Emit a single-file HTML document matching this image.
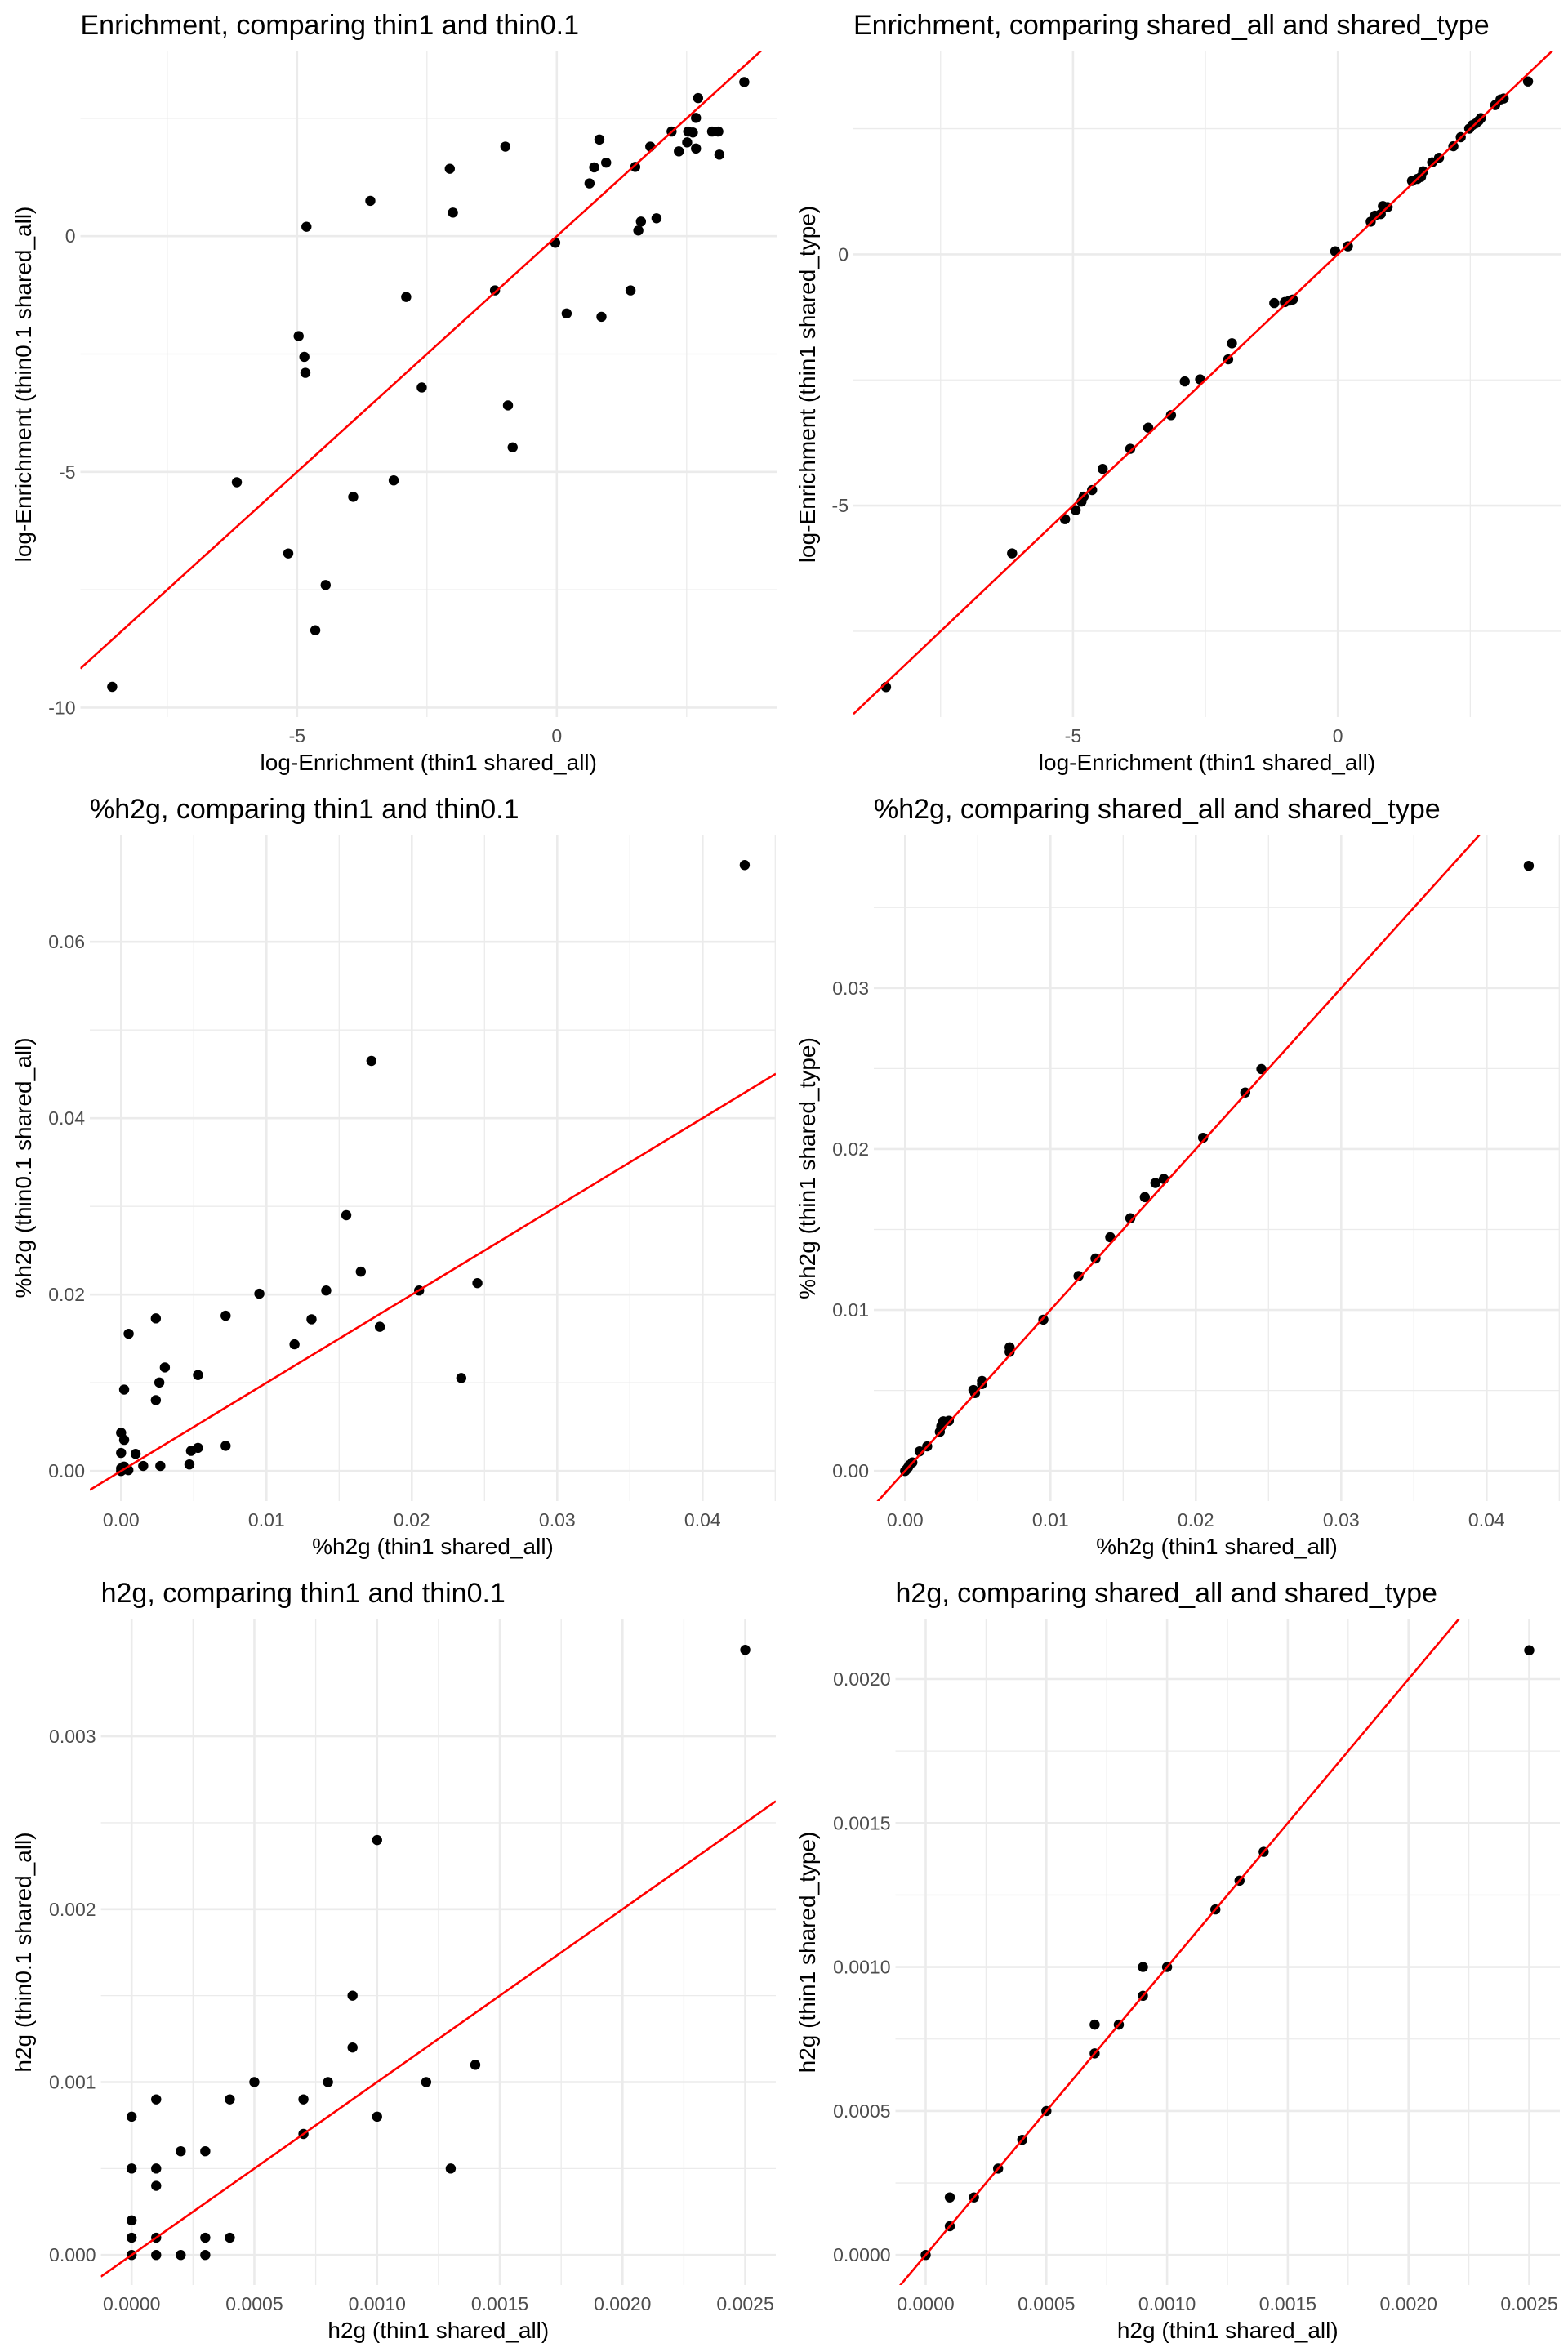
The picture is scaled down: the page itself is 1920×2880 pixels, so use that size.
<!DOCTYPE html>
<html><head><meta charset="utf-8"><style>
html,body{margin:0;padding:0;background:#fff}
svg{display:block}
text{font-family:"Liberation Sans",Arial,sans-serif}
</style></head><body>
<svg id="fig" xmlns="http://www.w3.org/2000/svg" width="1920" height="2880" viewBox="0 0 1920 2880"></svg>
<script>
// ---- data ----
const p1x=[-8.56,-6.16,-5.17,-4.97,-4.86,-4.84,-4.82,-4.65,-4.45,-3.92,-3.59,-3.14,-2.90,-2.60,-2.06,-2.00,-1.19,-0.99,-0.94,-0.85,-0.03,0.19,0.63,0.72,0.82,0.86,0.95,1.42,1.51,1.57,1.62,1.80,1.92,2.21,2.35,2.51,2.53,2.62,2.68,2.68,2.72,2.99,3.11,3.13,3.61];
const p1y=[-9.56,-5.22,-6.73,-2.12,-2.56,-2.90,0.20,-8.36,-7.40,-5.53,0.75,-5.18,-1.29,-3.21,1.43,0.50,-1.15,1.90,-3.59,-4.48,-0.14,-1.64,1.12,1.46,2.05,-1.71,1.56,-1.15,1.47,0.12,0.31,1.90,0.38,2.22,1.80,1.99,2.22,2.20,2.51,1.86,2.93,2.22,2.22,1.73,3.27];
const p2x=[-8.53,-6.15,-5.15,-4.95,-4.84,-4.80,-4.64,-4.44,-3.92,-3.58,-3.15,-2.89,-2.60,-2.07,-2.00,-1.20,-1.00,-0.91,-0.85,-0.05,0.19,0.62,0.70,0.81,0.85,0.94,1.40,1.50,1.57,1.61,1.78,1.91,2.18,2.32,2.48,2.54,2.61,2.66,2.70,2.97,3.07,3.13,3.59];
const p2y=[-8.61,-5.95,-5.27,-5.09,-4.92,-4.82,-4.69,-4.27,-3.87,-3.45,-3.20,-2.53,-2.49,-2.09,-1.77,-0.97,-0.95,-0.92,-0.90,0.06,0.16,0.65,0.77,0.80,0.96,0.94,1.46,1.50,1.54,1.65,1.83,1.92,2.15,2.33,2.50,2.57,2.61,2.66,2.71,2.97,3.08,3.10,3.44];
const p3x=[0.0429,0.01722,0.01549,0.01649,0.02451,0.0205,0.01411,0.00951,0.00719,0.00239,0.0131,0.0178,0.01193,0.00052,0.0234,0.00529,0.00301,0.00263,0.00021,0.00239,0,0.00021,0,0.001,0.00719,0.00529,0.00481,0.0047,0.00152,0.0027,0,0.0002,0.0005,0,0.0003];
const p3y=[0.0687,0.0465,0.0290,0.0226,0.0213,0.02046,0.02046,0.0201,0.0176,0.0173,0.0172,0.01635,0.01436,0.01556,0.01054,0.01088,0.01174,0.01003,0.00923,0.00803,0.00433,0.00353,0.00205,0.00194,0.00285,0.00262,0.00228,0.00074,0.00057,0.00057,0.0003,0.0005,0.0001,0,0.0002];
const p4x=[0.0429,0.02451,0.0234,0.0205,0.0178,0.01722,0.01649,0.01549,0.01411,0.0131,0.01193,0.00951,0.00719,0.00719,0.00529,0.00529,0.0047,0.00481,0.00301,0.00263,0.00249,0.00239,0.00152,0.001,0.0005,0.0003,0.0002,0,0.0001];
const p4y=[0.03759,0.02497,0.02351,0.0207,0.01814,0.01789,0.01701,0.0157,0.01452,0.0132,0.01211,0.0094,0.00768,0.0074,0.00559,0.0054,0.00503,0.00484,0.00312,0.00309,0.00278,0.00243,0.00153,0.00122,0.00053,0.00037,0.00022,0,0.0001];
const p5x=[0.0025,0.001,0.0009,0.0009,0.0014,0.0005,0.0008,0.0012,0.0001,0.0004,0.0007,0,0.001,0.0007,0.0002,0.0003,0,0.0001,0.0013,0.0001,0,0,0.0001,0.0003,0.0004,0,0.0001,0.0002,0.0003];
const p5y=[0.0035,0.0024,0.0015,0.0012,0.0011,0.001,0.001,0.001,0.0009,0.0009,0.0009,0.0008,0.0008,0.0007,0.0006,0.0006,0.0005,0.0005,0.0005,0.0004,0.0002,0.0001,0.0001,0.0001,0.0001,0,0,0,0];
const p6x=[0.0025,0.0014,0.0013,0.0012,0.0009,0.001,0.0009,0.0007,0.0008,0.0007,0.0005,0.0004,0.0003,0.0001,0.0002,0.0001,0];
const p6y=[0.0021,0.0014,0.0013,0.0012,0.001,0.001,0.0009,0.0008,0.0008,0.0007,0.0005,0.0004,0.0003,0.0002,0.0002,0.0001,0];
// ---- ticks ----
const encXTicks=[-5,0], encXLabels=["-5","0"], encXMinor=[-7.5,-2.5,2.5];
const encYTicks=[0,-5,-10], encYLabels=["0","-5","-10"], encYMinor=[2.5,-2.5,-7.5];
const enc2YTicks=[0,-5], enc2YLabels=["0","-5"];
const pctXTicks=[0,0.01,0.02,0.03,0.04], pctXLabels=["0.00","0.01","0.02","0.03","0.04"], pctXMinor=[0.005,0.015,0.025,0.035,0.045];
const p3YTicks=[0,0.02,0.04,0.06], p3YLabels=["0.00","0.02","0.04","0.06"], p3YMinor=[0.01,0.03,0.05];
const p4YTicks=[0,0.01,0.02,0.03], p4YLabels=["0.00","0.01","0.02","0.03"], p4YMinor=[0.005,0.015,0.025,0.035];
const h2XTicks=[0,0.0005,0.001,0.0015,0.002,0.0025], h2XLabels=["0.0000","0.0005","0.0010","0.0015","0.0020","0.0025"], h2XMinor=[0.00025,0.00075,0.00125,0.00175,0.00225];
const p5YTicks=[0,0.001,0.002,0.003], p5YLabels=["0.000","0.001","0.002","0.003"], p5YMinor=[0.0005,0.0015,0.0025];
const p6YTicks=[0,0.0005,0.001,0.0015,0.002], p6YLabels=["0.0000","0.0005","0.0010","0.0015","0.0020"], p6YMinor=[0.00025,0.00075,0.00125,0.00175];

const NS="http://www.w3.org/2000/svg";
const fig=document.getElementById('fig');
function mk(tag,attrs,parent){const e=document.createElementNS(NS,tag);for(const k in attrs)e.setAttribute(k,attrs[k]);(parent||fig).appendChild(e);return e;}

const panels=[
 {id:'p1',box:{l:98.5,r:951,t:63,b:878},x0:681.8,kx:63.6,y0:289.2,ky:-57.72,xs:p1x,ys:p1y,xt:encXTicks,xl:encXLabels,xm:encXMinor,yt:encYTicks,yl:encYLabels,ym:encYMinor,title:"Enrichment, comparing thin1 and thin0.1",xlab:"log-Enrichment (thin1 shared_all)",ylab:"log-Enrichment (thin0.1 shared_all)",yx:28,ty:42},
 {id:'p2',box:{l:1045,r:1911,t:63,b:878},x0:1638.2,kx:64.86,y0:311.4,ky:-61.54,xs:p2x,ys:p2y,xt:encXTicks,xl:encXLabels,xm:encXMinor,yt:enc2YTicks,yl:enc2YLabels,ym:encYMinor,title:"Enrichment, comparing shared_all and shared_type",xlab:"log-Enrichment (thin1 shared_all)",ylab:"log-Enrichment (thin1 shared_type)",yx:988,ty:42},
 {id:'p3',box:{l:110,r:950,t:1022,b:1838},x0:148.3,kx:17800,y0:1801.2,ky:-10800,xs:p3x,ys:p3y,xt:pctXTicks,xl:pctXLabels,xm:pctXMinor,yt:p3YTicks,yl:p3YLabels,ym:p3YMinor,title:"%h2g, comparing thin1 and thin0.1",xlab:"%h2g (thin1 shared_all)",ylab:"%h2g (thin0.1 shared_all)",yx:28,ty:1002},
 {id:'p4',box:{l:1070,r:1910,t:1023,b:1838},x0:1108.3,kx:17800,y0:1801.2,ky:-19713,xs:p4x,ys:p4y,xt:pctXTicks,xl:pctXLabels,xm:pctXMinor,yt:p4YTicks,yl:p4YLabels,ym:p4YMinor,title:"%h2g, comparing shared_all and shared_type",xlab:"%h2g (thin1 shared_all)",ylab:"%h2g (thin1 shared_type)",yx:988,ty:1002},
 {id:'p5',box:{l:123.6,r:950,t:1983,b:2798},x0:161.2,kx:300550,y0:2761.2,ky:-211700,xs:p5x,ys:p5y,xt:h2XTicks,xl:h2XLabels,xm:h2XMinor,yt:p5YTicks,yl:p5YLabels,ym:p5YMinor,title:"h2g, comparing thin1 and thin0.1",xlab:"h2g (thin1 shared_all)",ylab:"h2g (thin0.1 shared_all)",yx:28,ty:1962},
 {id:'p6',box:{l:1096.5,r:1910,t:1983,b:2798},x0:1133.5,kx:295600,y0:2761.2,ky:-352600,xs:p6x,ys:p6y,xt:h2XTicks,xl:h2XLabels,xm:h2XMinor,yt:p6YTicks,yl:p6YLabels,ym:p6YMinor,title:"h2g, comparing shared_all and shared_type",xlab:"h2g (thin1 shared_all)",ylab:"h2g (thin1 shared_type)",yx:988,ty:1962}
];

const defs=mk('defs',{});
panels.forEach(P=>{
  const b=P.box;
  const X=v=>P.x0+v*P.kx, Y=v=>P.y0+v*P.ky;
  const g=mk('g',{});
  
  
  const cp=mk('clipPath',{id:'clip-'+P.id},defs);
  mk('rect',{x:b.l,y:b.t,width:b.r-b.l,height:b.b-b.t},cp);
  P.xm.forEach(v=>{const x=X(v);if(x>=b.l&&x<=b.r+1){const l=mk('line',{x1:x,x2:x,y1:b.t,y2:b.b,stroke:'#ebebeb','stroke-width':1.3},g);}});
  P.ym.forEach(v=>{const y=Y(v);if(y>=b.t-1&&y<=b.b){const l=mk('line',{x1:b.l,x2:b.r,y1:y,y2:y,stroke:'#ebebeb','stroke-width':1.3},g);}});
  P.xt.forEach((v,i)=>{const x=X(v);
    const l=mk('line',{x1:x,x2:x,y1:b.t,y2:b.b,stroke:'#ebebeb','stroke-width':2.6},g);
    
    const t=mk('text',{x:x,y:b.b+31,'text-anchor':'middle','font-size':23,fill:'#4d4d4d'},g);t.textContent=P.xl[i];
    });
  P.yt.forEach((v,i)=>{const y=Y(v);
    const l=mk('line',{x1:b.l,x2:b.r,y1:y,y2:y,stroke:'#ebebeb','stroke-width':2.6},g);
    
    const t=mk('text',{x:b.l-6,y:y+8,'text-anchor':'end','font-size':23,fill:'#4d4d4d'},g);t.textContent=P.yl[i];
    });
  P.xs.forEach((v,i)=>{const c=mk('circle',{cx:X(v),cy:Y(P.ys[i]),r:6.2,fill:'#000'},g);
    });
  const xa=(b.l-P.x0)/P.kx, xb=(b.r-P.x0)/P.kx;
  const rl=mk('line',{x1:X(xa),y1:Y(xa),x2:X(xb),y2:Y(xb),stroke:'#ff0000','stroke-width':2.6,'clip-path':'url(#clip-'+P.id+')'},g);
  
  const tt=mk('text',{x:b.l,y:P.ty,'font-size':34,fill:'#000'},g);tt.textContent=P.title;
  
  const xt=mk('text',{x:(b.l+b.r)/2,y:P.ty-42+943,'text-anchor':'middle','font-size':28,fill:'#000'},g);xt.textContent=P.xlab;
  
  const cy=(b.t+b.b)/2;
  const yt=mk('text',{x:P.yx+10,y:cy,'text-anchor':'middle','font-size':28,fill:'#000',transform:'rotate(-90 '+(P.yx+10)+' '+cy+')'},g);yt.textContent=P.ylab;
  
});
</script>
</body></html>
